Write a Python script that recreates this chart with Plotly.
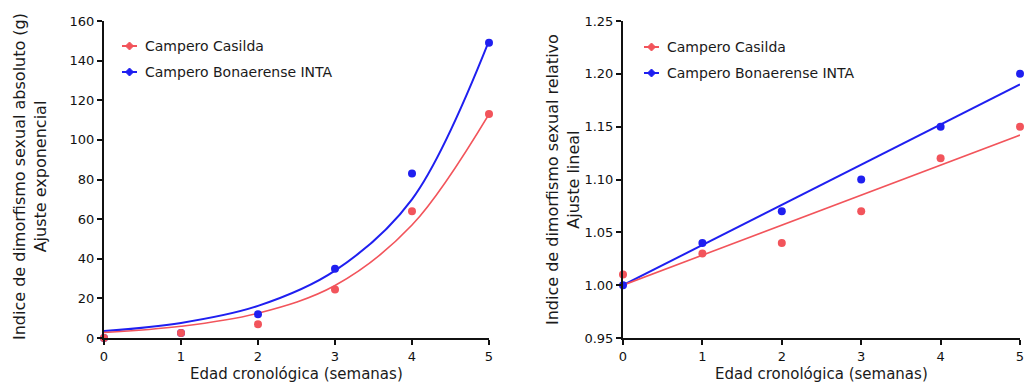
import plotly.graph_objects as go

weeks = [0, 1, 2, 3, 4, 5]

# Left panel: absolute sexual dimorphism index (g)
abs_casilda = [0, 2.5, 7, 24.5, 64, 113]
abs_inta = [0, 2.5, 12, 35, 83, 149]
abs_fit_casilda = [2.8, 5.9, 12.5, 26.5, 57, 113]
abs_fit_inta = [3.5, 7.6, 16.2, 34, 70, 150]

# Right panel: relative sexual dimorphism index
rel_casilda = [1.01, 1.03, 1.04, 1.07, 1.12, 1.15]
rel_inta = [1.00, 1.04, 1.07, 1.10, 1.15, 1.20]
rel_fit_x = [0, 5]
rel_fit_casilda = [1.000, 1.142]
rel_fit_inta = [1.000, 1.190]

names = ["Campero Casilda", "Campero Bonaerense INTA"]
x_title = "Edad cronológica (semanas)"
y_title_left = "Indice de dimorfismo sexual absoluto (g)<br>Ajuste exponencial"
y_title_right = "Indice de dimorfismo sexual relativo<br>Ajuste lineal"

RED = "#f2545b"
BLUE = "#1f1ff0"
FONT = "DejaVu Sans, Verdana, sans-serif"
TXT = "#1a1a1a"

W, H = 1024, 385
T = 21
B = H - 338
PH = H - T - B


def px(x):
    return x / W


def py(y):
    return (H - B - y) / PH


fig = go.Figure()


def add_panel(xa, ya, fit_x, fits, pts, shape):
    cols = [RED, BLUE]
    for i in (1, 0):
        fig.add_trace(go.Scatter(x=fit_x, y=fits[i], mode="lines",
                                 line=dict(color=cols[i], width=2 if i == 1 else 1.6, shape=shape),
                                 xaxis=xa, yaxis=ya, showlegend=False, hoverinfo="skip"))
    for i in (1, 0):
        fig.add_trace(go.Scatter(x=weeks, y=pts[i], mode="markers", name=names[i],
                                 marker=dict(color=cols[i], size=8),
                                 cliponaxis=False, xaxis=xa, yaxis=ya, showlegend=False))


add_panel("x", "y", weeks, [abs_fit_casilda, abs_fit_inta], [abs_casilda, abs_inta], "spline")
add_panel("x2", "y2", rel_fit_x, [rel_fit_casilda, rel_fit_inta], [rel_casilda, rel_inta], "linear")

axis_common = dict(showline=True, linecolor="#111", linewidth=2, ticks="outside",
                   ticklen=5, tickwidth=2, tickcolor="#111", showgrid=False, zeroline=False,
                   automargin=False, ticklabeloverflow="allow",
                   tickfont=dict(family=FONT, size=13, color="#111"))

annotations = []
shapes = []

# legends drawn manually (symbol + text), one per panel
for (sym_l, sym_r, txt_x, ys) in [(122, 137, 143, (46, 72)), (644, 659, 665, (47, 73))]:
    for i, col in enumerate([RED, BLUE]):
        yy = ys[i]
        shapes.append(dict(type="line", xref="paper", yref="paper",
                           x0=px(sym_l), x1=px(sym_r), y0=py(yy), y1=py(yy),
                           line=dict(color=col, width=2)))
        cx = (sym_l + sym_r) / 2
        d = 4
        path = (f"M {px(cx - d)},{py(yy)} L {px(cx)},{py(yy - d)} "
                f"L {px(cx + d)},{py(yy)} L {px(cx)},{py(yy + d)} Z")
        shapes.append(dict(type="path", xref="paper", yref="paper", path=path,
                           fillcolor=col, line=dict(color=col, width=1)))
        annotations.append(dict(text=names[i], xref="paper", yref="paper",
                                x=px(txt_x), y=py(yy), xanchor="left", yanchor="middle",
                                showarrow=False, font=dict(family=FONT, size=14, color=TXT)))

# axis titles
for cx in (296, 821):
    annotations.append(dict(text=x_title, xref="paper", yref="paper", x=px(cx), y=py(374),
                            xanchor="center", yanchor="middle", showarrow=False,
                            font=dict(family=FONT, size=15, color=TXT)))
annotations.append(dict(text=y_title_left, xref="paper", yref="paper", x=px(30), y=py(177),
                        xanchor="center", yanchor="middle", textangle=-90, showarrow=False,
                        font=dict(family=FONT, size=16, color=TXT)))
annotations.append(dict(text=y_title_right, xref="paper", yref="paper", x=px(563), y=py(180),
                        xanchor="center", yanchor="middle", textangle=-90, showarrow=False,
                        font=dict(family=FONT, size=16, color=TXT)))

fig.update_layout(
    width=W, height=H,
    margin=dict(l=0, r=0, t=T, b=B),
    paper_bgcolor="white", plot_bgcolor="white",
    font=dict(family=FONT),
    showlegend=False,
    xaxis=dict(domain=[px(104), px(489)], range=[0, 5], tickvals=weeks, anchor="y", **axis_common),
    yaxis=dict(domain=[0, 1], range=[0, 160], tickvals=[0, 20, 40, 60, 80, 100, 120, 140, 160],
               anchor="x", **axis_common),
    xaxis2=dict(domain=[px(623), px(1020)], range=[0, 5], tickvals=weeks, anchor="y2", **axis_common),
    yaxis2=dict(domain=[0, 1], range=[0.95, 1.25], tickvals=[0.95, 1.00, 1.05, 1.10, 1.15, 1.20, 1.25],
                tickformat=".2f", anchor="x2", **axis_common),
    annotations=annotations,
    shapes=shapes,
)

# remove the browser's default 8px body margin so the figure fills the window exactly
fig.write_html("out.html",
               config={"displayModeBar": False},
               post_script="document.body.style.margin='0';document.body.style.overflow='hidden';")
